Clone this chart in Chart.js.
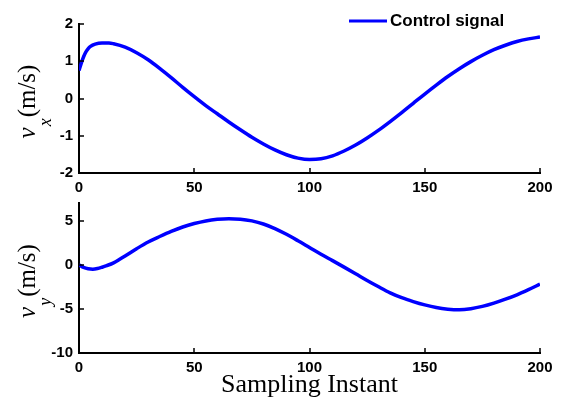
<!DOCTYPE html>
<html>
<head>
<meta charset="utf-8">
<script src="https://cdn.jsdelivr.net/npm/chart.js@4/dist/chart.umd.min.js"></script>
<style>
  html, body { margin: 0; padding: 0; background: #fff; }
  #wrap { position: relative; width: 561px; height: 401px; }
  #wrap canvas { position: absolute; left: 0; top: 0; }
</style>
</head>
<body>
<div id="wrap">
  <canvas id="vxChart" width="561" height="401"></canvas>
  <canvas id="vyChart" width="561" height="401"></canvas>
</div>
<script>
// Series and axis data
const seriesLabel = 'Control signal';
const xTitle = 'Sampling Instant';
const xTicks = [0, 50, 100, 150, 200];
const vxTicks = [-2, -1, 0, 1, 2];
const vyTicks = [-10, -5, 0, 5];

const vxInstants = [0, 1, 2, 3, 4, 5, 7, 10, 13, 15, 20, 25, 30, 35, 40, 45, 50, 55, 60, 65, 70, 75, 80, 85, 90, 95,
  100, 105, 110, 115, 120, 125, 130, 135, 140, 145, 150, 155, 160, 165, 170, 175, 180, 185, 190, 195, 200];
const vxValues = [0.75, 0.95, 1.12, 1.25, 1.34, 1.40, 1.46, 1.49, 1.49, 1.47, 1.38, 1.23, 1.04, 0.81, 0.56, 0.30, 0.05,
  -0.19, -0.41, -0.63, -0.84, -1.04, -1.22, -1.38, -1.51, -1.60,
  -1.64, -1.62, -1.54, -1.41, -1.25, -1.06, -0.85, -0.62, -0.38, -0.13, 0.12, 0.36, 0.59, 0.80, 0.99, 1.16, 1.31,
  1.43, 1.53, 1.60, 1.65];

const vyInstants = [0, 2, 4, 6, 8, 10, 12, 15, 18, 20, 25, 30, 35, 40, 45, 50, 55, 60, 65, 70, 75, 80, 85, 90, 95,
  100, 105, 110, 115, 120, 125, 130, 135, 140, 145, 150, 155, 160, 165, 170, 175, 180, 185, 190, 195, 200];
const vyValues = [0, -0.3, -0.45, -0.5, -0.43, -0.28, -0.1, 0.22, 0.68, 1.0, 1.82, 2.58, 3.2, 3.78, 4.28, 4.67, 4.97,
  5.15, 5.22, 5.17, 4.97, 4.62, 4.1, 3.45, 2.72, 1.96, 1.2, 0.47, -0.27, -1.02, -1.78, -2.5, -3.18, -3.73, -4.17,
  -4.55, -4.85, -5.03, -5.1, -4.98, -4.72, -4.35, -3.9, -3.4, -2.82, -2.2];

const LINE_BLUE = '#0000ff';
const TICK_FONT = { family: '"Liberation Sans", Arial, sans-serif', size: 15, weight: 'bold' };
const SERIF = '"Liberation Serif", "Times New Roman", serif';

function points(xs, ys) { return xs.map((x, i) => ({ x: x, y: ys[i] })); }

// Rotated y-axis label: italic v with a subscript, followed by the unit
function drawYTitle(ctx, cx, cy, sub) {
  ctx.save();
  ctx.translate(cx, cy);
  ctx.rotate(-Math.PI / 2);
  ctx.fillStyle = '#000';
  ctx.textBaseline = 'alphabetic';
  ctx.textAlign = 'left';
  const fMain = 'italic 25px ' + SERIF;
  const fSub = 'italic 18px ' + SERIF;
  const fUnit = '25px ' + SERIF;
  ctx.font = fMain; const wv = ctx.measureText('v').width;
  ctx.font = fSub; const ws = ctx.measureText(sub).width;
  ctx.font = fUnit; const wu = ctx.measureText('(m/s)').width;
  const total = wv + 1 + ws + 1 + wu;
  const x0 = -total / 2;
  ctx.font = fMain; ctx.fillText('v', x0, 0);
  ctx.font = fSub; ctx.fillText(sub, x0 + wv + 1, 16);
  ctx.font = fUnit; ctx.fillText('(m/s)', x0 + wv + 1 + ws + 1, 0);
  ctx.restore();
}

// Inward tick marks, axis titles and legend
function decorPlugin(opts) {
  return {
    id: 'decor',
    afterDraw(chart) {
      const ctx = chart.ctx;
      const xs = chart.scales.x, ys = chart.scales.y;
      const area = chart.chartArea;
      ctx.save();
      ctx.strokeStyle = '#000';
      ctx.lineWidth = 1.5;
      ctx.beginPath();
      xs.ticks.forEach(t => {
        const px = Math.round(xs.getPixelForValue(t.value));
        ctx.moveTo(px, area.bottom);
        ctx.lineTo(px, area.bottom - 5);
      });
      ys.ticks.forEach(t => {
        const py = Math.round(ys.getPixelForValue(t.value));
        ctx.moveTo(area.left, py);
        ctx.lineTo(area.left + 5, py);
      });
      ctx.stroke();
      ctx.restore();

      drawYTitle(ctx, 35, (area.top + area.bottom) / 2 + 3, opts.sub);

      if (opts.legend) {
        const ds = chart.data.datasets[0];
        ctx.save();
        ctx.strokeStyle = ds.borderColor;
        ctx.lineWidth = 3;
        ctx.beginPath();
        ctx.moveTo(349, 21);
        ctx.lineTo(387, 21);
        ctx.stroke();
        ctx.fillStyle = '#000';
        ctx.font = 'bold 17px "Liberation Sans", Arial, sans-serif';
        ctx.textBaseline = 'middle';
        ctx.textAlign = 'left';
        ctx.fillText(ds.label, 390, 21);
        ctx.restore();
      }
      if (opts.xTitle) {
        ctx.save();
        ctx.fillStyle = '#000';
        ctx.font = '26px ' + SERIF;
        ctx.textAlign = 'center';
        ctx.textBaseline = 'alphabetic';
        ctx.fillText(opts.xTitle, (area.left + area.right) / 2, 392);
        ctx.restore();
      }
    }
  };
}

function makeChart(id, xsData, ysData, yTicks, yMin, yMax, padding, plugOpts) {
  return new Chart(document.getElementById(id), {
    type: 'line',
    data: {
      datasets: [{
        label: seriesLabel,
        data: points(xsData, ysData),
        borderColor: LINE_BLUE,
        backgroundColor: LINE_BLUE,
        borderWidth: 3.5,
        pointRadius: 0,
        fill: false,
        cubicInterpolationMode: 'monotone'
      }]
    },
    options: {
      responsive: false,
      animation: false,
      events: [],
      layout: { padding: padding },
      plugins: { legend: { display: false }, tooltip: { enabled: false } },
      scales: {
        x: {
          type: 'linear',
          min: xTicks[0],
          max: xTicks[xTicks.length - 1],
          afterBuildTicks: s => { s.ticks = xTicks.map(v => ({ value: v })); },
          afterFit: s => { s.height = 30; },
          grid: { display: false, drawTicks: false, tickLength: 0 },
          border: { display: true, color: '#000', width: 2 },
          ticks: { color: '#000', font: TICK_FONT, padding: 6, maxRotation: 0 }
        },
        y: {
          type: 'linear',
          min: yMin,
          max: yMax,
          afterBuildTicks: s => { s.ticks = yTicks.map(v => ({ value: v })); },
          afterFit: s => { s.width = 79; },
          grid: { display: false, drawTicks: false, tickLength: 0 },
          border: { display: true, color: '#000', width: 2 },
          ticks: { color: '#000', font: TICK_FONT, padding: 6 }
        }
      }
    },
    plugins: [decorPlugin(plugOpts)]
  });
}

makeChart('vxChart', vxInstants, vxValues, vxTicks, -2, 2,
  { top: 24, right: 21, left: 0, bottom: 198 }, { sub: 'x', legend: true });
makeChart('vyChart', vyInstants, vyValues, vyTicks, -10, 7,
  { top: 203, right: 21, left: 0, bottom: 18 }, { sub: 'y', xTitle: xTitle });
</script>
</body>
</html>
